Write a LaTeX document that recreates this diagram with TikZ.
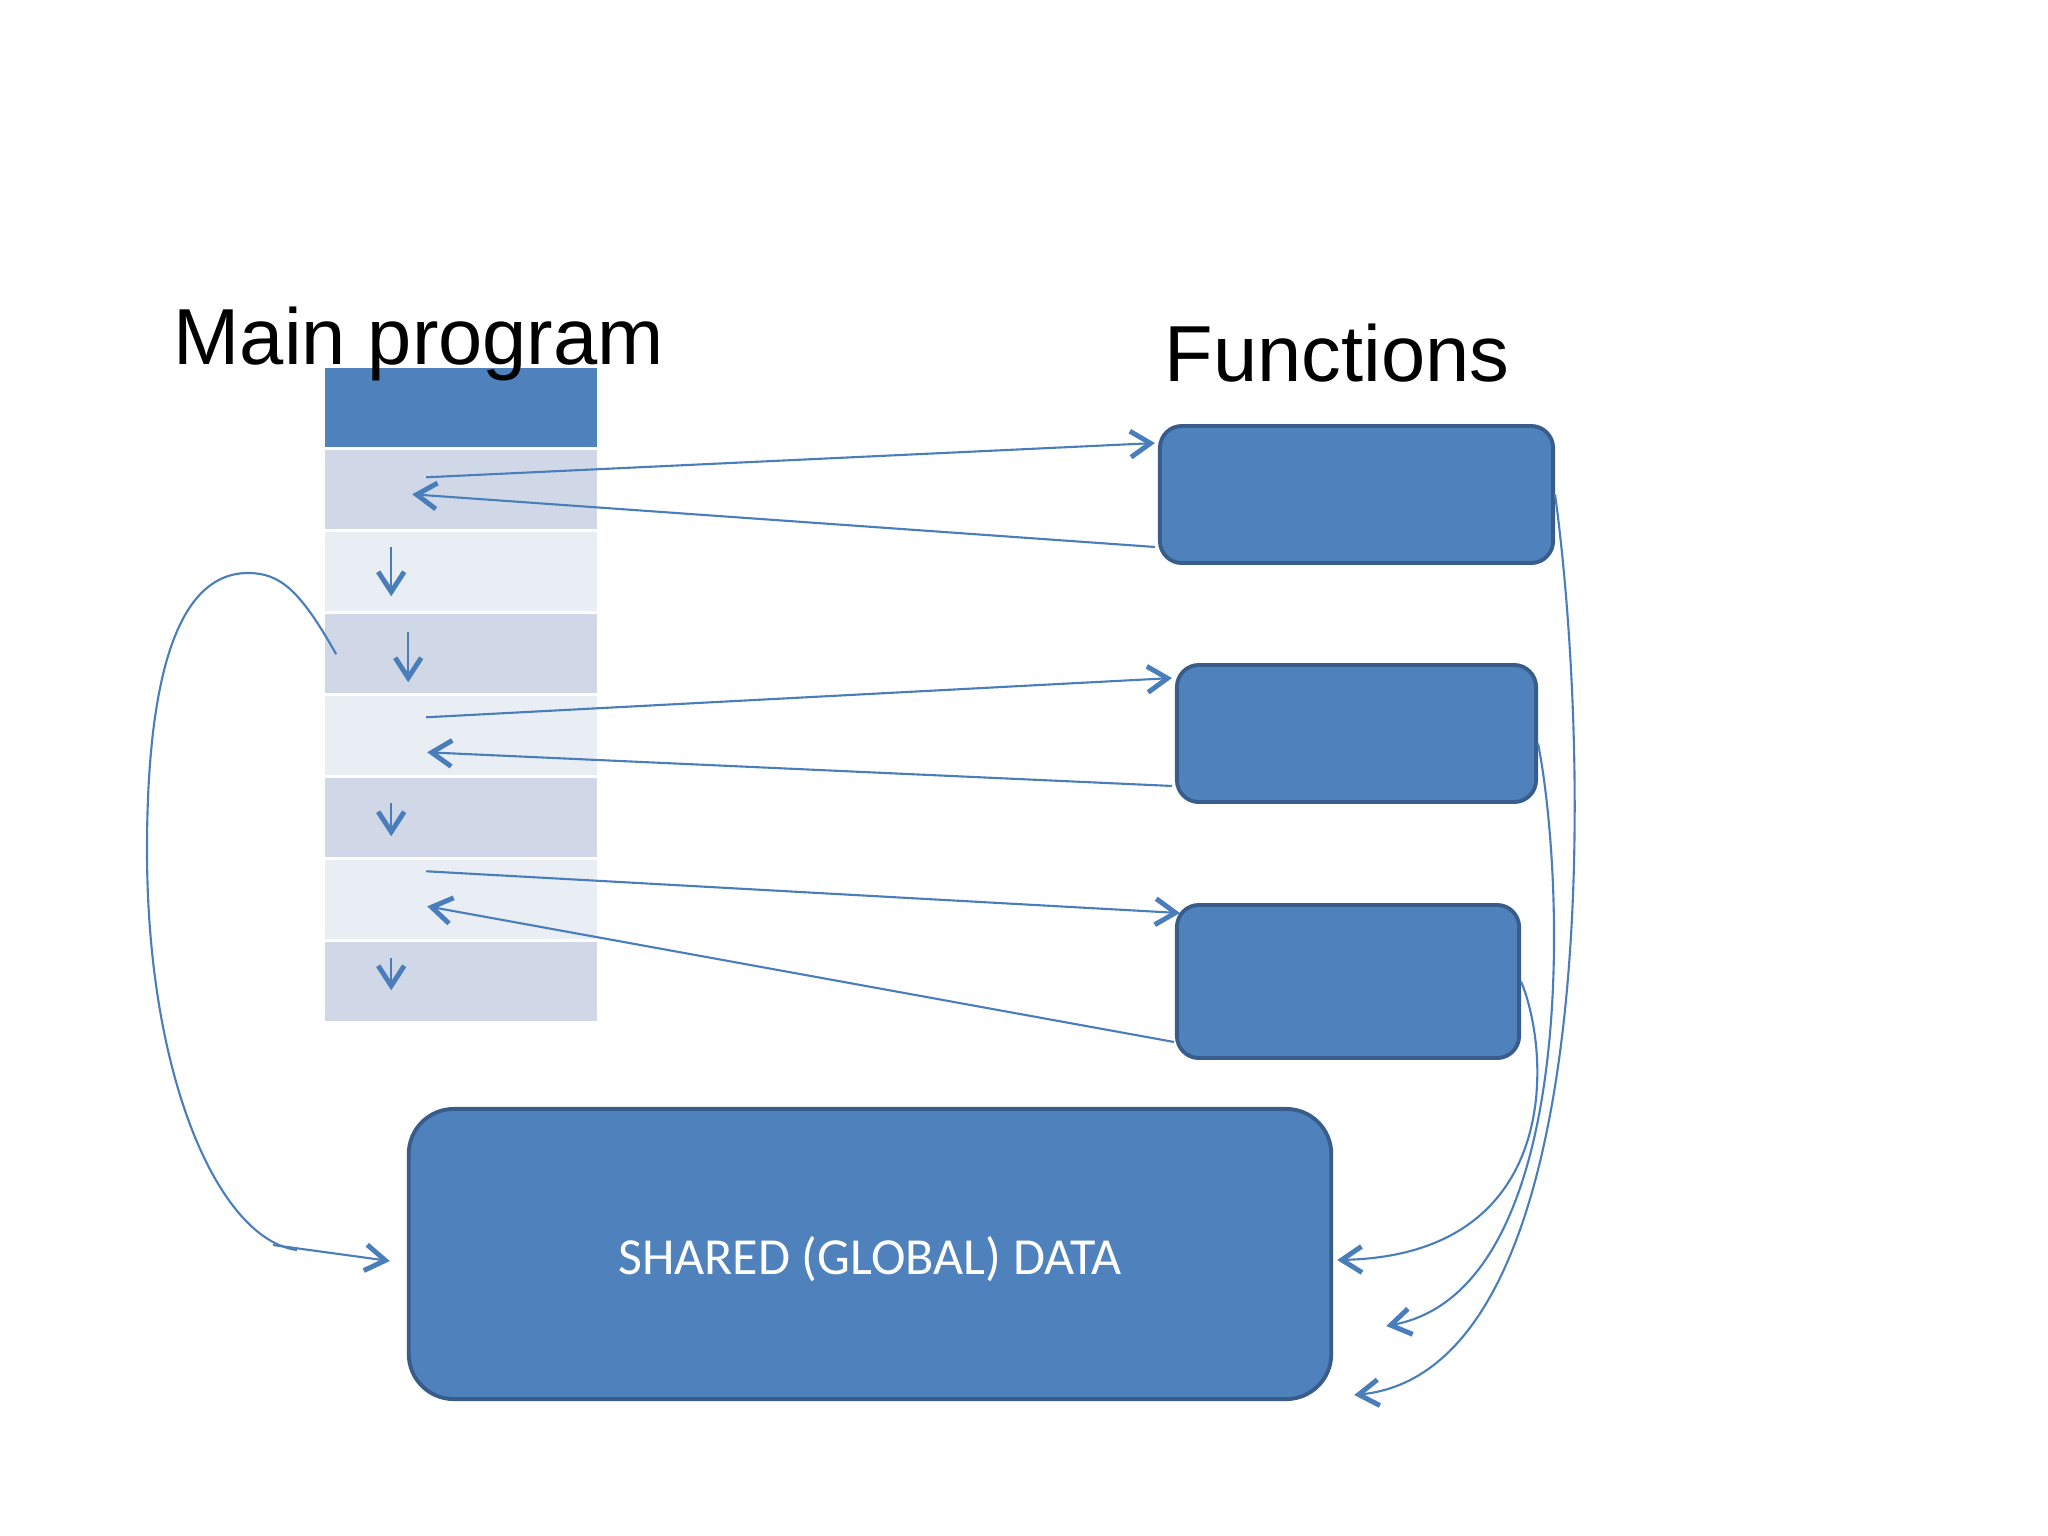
\documentclass[tikz,border=0pt]{standalone}
\usepackage{fontspec}
\setmainfont{Liberation Sans}
\newfontfamily\calfont{Carlito}
\usetikzlibrary{arrows.meta,calc}
\definecolor{accent}{HTML}{4F81BD}
\definecolor{accentdark}{HTML}{385D8A}
\definecolor{rowdark}{HTML}{D0D8E8}
\definecolor{rowlight}{HTML}{E9EDF4}
\definecolor{linkblue}{HTML}{4A7EBB}
\begin{document}
\begin{tikzpicture}[x=0.01cm, y=-0.01cm,
    every node/.style={inner sep=0pt},
    cell/.style={minimum width=2.72cm, minimum height=0.79cm},
    fbox/.style={draw=accentdark, fill=accent, line width=1.1pt, rounded corners=0.22cm},
    link/.style={draw=linkblue, line width=0.6pt},
    wire/.style={link, -{Straight Barb[length=0.2cm, width=0.26cm, line width=1.4pt]}},
    title/.style={anchor=base west, font=\fontsize{22.6}{28}\selectfont}]
    \useasboundingbox (0,0) rectangle (2048,1536);
    \node[cell, fill=accent] (r1) at (461,407.5) {};
    \foreach \i in {2,4,6,8}
        \node[cell, fill=rowdark] (r\i) at (461,{407.5+(\i-1)*82}) {};
    \foreach \i in {3,5,7}
        \node[cell, fill=rowlight] (r\i) at (461,{407.5+(\i-1)*82}) {};
    \node[title] (tmain) at (173,364) {Main program};
    \node[title] (tfun) at (1164,381) {Functions};
    \node[fbox, minimum width=3.93cm, minimum height=1.37cm] (f1) at (1356.5,494.5) {};
    \node[fbox, minimum width=3.59cm, minimum height=1.37cm] (f2) at (1356.5,733.5) {};
    \node[fbox, minimum width=3.42cm, minimum height=1.53cm] (f3) at (1348,981.5) {};
    \node[fbox, rounded corners=0.45cm, minimum width=9.22cm, minimum height=2.9cm,
        text=white, font=\calfont\fontsize{14.8}{17}\selectfont] (sh) at (870,1254) {};
    \node[text=white, font=\calfont\fontsize{14.8}{17}\selectfont] (shtext) at (870,1259) {SHARED (GLOBAL) DATA};
    \coordinate (o2) at ($(r2.north west)+(102,28)$);
    \coordinate (i2) at ($(r2.north west)+(88,45)$);
    \coordinate (o5) at ($(r5.north west)+(102,22)$);
    \coordinate (i5) at ($(r5.north west)+(103,57)$);
    \coordinate (o7) at ($(r7.north west)+(102,12)$);
    \coordinate (i7) at ($(r7.north west)+(103,47)$);
    \draw[wire] (o2) -- ([xshift=-0.03cm, yshift=-0.19cm]f1.north west);
    \draw[wire] ([xshift=-0.03cm, yshift=0.18cm]f1.south west) -- (i2);
    \draw[wire] (o5) -- ([xshift=-0.03cm, yshift=-0.15cm]f2.north west);
    \draw[wire] ([xshift=-0.03cm, yshift=0.18cm]f2.south west) -- (i5);
    \draw[wire] (o7) -- ([xshift=0.05cm, yshift=-0.1cm]f3.north west);
    \draw[wire] ([xshift=-0.01cm, yshift=0.18cm]f3.south west) -- (i7);
    \draw[wire] ($(r3.north west)+(67,16)$) -- ($(r3.north west)+(67,65)$);
    \draw[wire] ($(r4.north west)+(84,19)$) -- ($(r4.north west)+(84,69)$);
    \draw[wire] ($(r6.north west)+(67,26)$) -- ($(r6.north west)+(67,59)$);
    \draw[wire] ($(r8.north west)+(67,17)$) -- ($(r8.north west)+(67,49)$);
    \coordinate (lp) at ($(r4.north west)+(12,41)$);
    \coordinate (lj) at (273,1245);
    \coordinate (ls) at ($(sh.west)+(-17,7)$);
    \draw[link] (lp) .. controls (300,590) and (280,573) .. (248,573)
        .. controls (170,573) and (147,700) .. (147,850)
        .. controls (147,1080) and (220,1240) .. (297,1250);
    \draw[wire] (lj) -- (ls);
    \coordinate (e3) at ($(sh.east)+(4,6)$);
    \coordinate (e2) at ($(sh.east)+(53,72)$);
    \coordinate (e1) at ($(sh.east)+(21,141)$);
    \draw[wire] (f3.east) .. controls (1550,1050) and (1565,1255) .. (e3);
    \draw[wire] ([yshift=-0.1cm]f2.east) .. controls (1565,880) and (1580,1290) .. (e2);
    \draw[wire] (f1.east) .. controls (1590,750) and (1605,1370) .. (e1);
\end{tikzpicture}
\end{document}
